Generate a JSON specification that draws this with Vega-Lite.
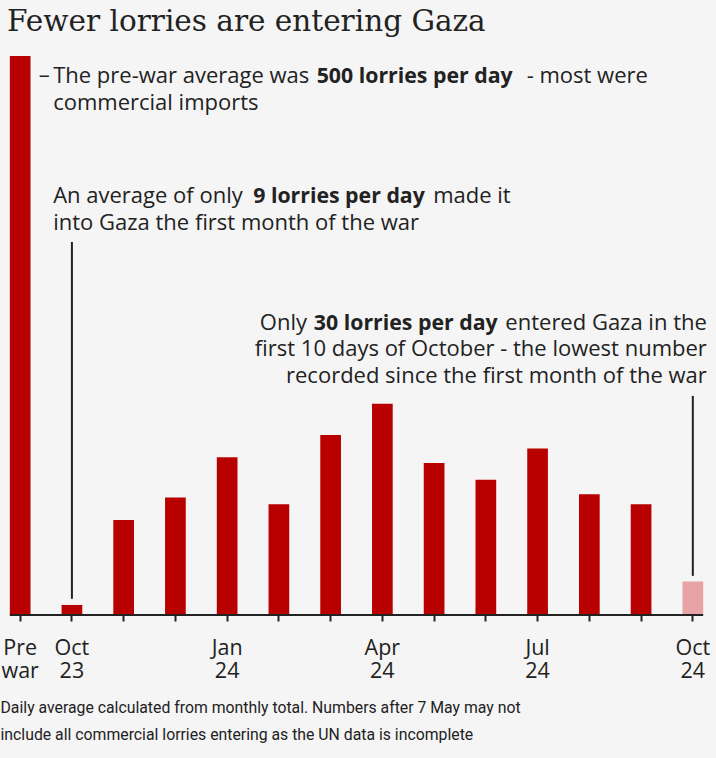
{
  "$schema": "https://vega.github.io/schema/vega-lite/v6.json",
  "width": 713,
  "height": 559,
  "autosize": {"type": "none"},
  "padding": {"left": 0, "top": 56, "right": 3, "bottom": 143},
  "background": "#f5f5f5",
  "config": {"view": {"stroke": null}, "font": "Open Sans"},
  "title": {
    "text": "Fewer lorries are entering Gaza",
    "anchor": "start",
    "frame": "group",
    "font": "DejaVu Serif",
    "fontSize": 29.5,
    "fontWeight": "normal",
    "color": "#222222",
    "baseline": "alphabetic",
    "offset": -4,
    "dx": 7
  },
  "data": {
    "values": [
      {"month": "Pre war", "lorries": 500},
      {"month": "Oct 23", "lorries": 9},
      {"month": "Nov 23", "lorries": 85},
      {"month": "Dec 23", "lorries": 105},
      {"month": "Jan 24", "lorries": 141},
      {"month": "Feb 24", "lorries": 99},
      {"month": "Mar 24", "lorries": 161},
      {"month": "Apr 24", "lorries": 189},
      {"month": "May 24", "lorries": 136},
      {"month": "Jun 24", "lorries": 121},
      {"month": "Jul 24", "lorries": 149},
      {"month": "Aug 24", "lorries": 108},
      {"month": "Sep 24", "lorries": 99},
      {"month": "Oct 24", "lorries": 30}
    ]
  },
  "layer": [
    {
      "mark": {"type": "bar"},
      "encoding": {
        "x": {
          "field": "month",
          "type": "nominal",
          "sort": null,
          "scale": {
            "domain": ["Pre war", "Oct 23", "Nov 23", "Dec 23", "Jan 24", "Feb 24", "Mar 24", "Apr 24", "May 24", "Jun 24", "Jul 24", "Aug 24", "Sep 24", "Oct 24"],
            "paddingInner": 0.6,
            "paddingOuter": 0.19
          },
          "axis": {
            "title": ["Daily average calculated from monthly total. Numbers after 7 May may not", "include all commercial lorries entering as the UN data is incomplete"],
            "domain": false,
            "ticks": true,
            "tickSize": 6,
            "tickWidth": 2,
            "tickColor": "#222222",
            "labelExpr": "indexof(['Pre war','Oct 23','Jan 24','Apr 24','Jul 24','Oct 24'], datum.value) >= 0 ? split(datum.value, ' ') : ''",
            "labelAngle": 0,
            "labelFont": "Open Sans",
            "labelFontSize": 21.5,
            "labelColor": "#222222",
            "labelLineHeight": 23,
            "labelBaseline": "alphabetic",
            "labelPadding": 33,
            "labelOverlap": false,
            "titleFont": "Roboto",
            "titleFontSize": 15.8,
            "titleColor": "#222222",
            "titleFontWeight": "normal",
            "titleAnchor": "start",
            "titleAlign": "left",
            "titleBaseline": "alphabetic",
            "titleLineHeight": 26.6,
            "titlePadding": 31
          }
        },
        "y": {
          "field": "lorries",
          "type": "quantitative",
          "scale": {"domain": [0, 500], "nice": false},
          "axis": null
        },
        "color": {
          "condition": {"test": "datum.month === 'Oct 24'", "value": "#e8a3a7"},
          "value": "#b80000"
        }
      }
    },
    {
      "data": {"values": [{}]},
      "mark": {"type": "rule", "color": "#222222", "strokeWidth": 2},
      "encoding": {
        "x": {"datum": "Pre war", "type": "nominal", "bandPosition": 0},
        "x2": {"datum": "Oct 24", "bandPosition": 1},
        "y": {"datum": 0, "type": "quantitative"}
      }
    },
    {
      "data": {"values": [{}]},
      "mark": {"type": "rule", "color": "#222222", "strokeWidth": 2},
      "encoding": {
        "x": {"datum": "Oct 23", "type": "nominal"},
        "y": {"datum": 333.7, "type": "quantitative"},
        "y2": {"datum": 14.6}
      }
    },
    {
      "data": {"values": [{}]},
      "mark": {"type": "rule", "color": "#222222", "strokeWidth": 2},
      "encoding": {
        "x": {"datum": "Oct 24", "type": "nominal"},
        "y": {"datum": 196, "type": "quantitative"},
        "y2": {"datum": 35}
      }
    },
    {
      "data": {"values": [{}]},
      "mark": {"type": "text", "align": "left", "baseline": "middle", "dx": 18.5, "fontSize": 22, "color": "#222222"},
      "encoding": {
        "x": {"datum": "Pre war", "type": "nominal"},
        "y": {"datum": 483.3, "type": "quantitative"},
        "text": {"value": "–"}
      }
    },
    {
      "data": {"values": [{}]},
      "mark": {"type": "text", "align": "left", "baseline": "alphabetic", "dx": 33, "fontSize": 22, "lineHeight": 27, "color": "#222222"},
      "encoding": {
        "x": {"datum": "Pre war", "type": "nominal"},
        "y": {"datum": 476.1, "type": "quantitative"},
        "text": {"value": ["The pre-war average was", "commercial imports"]}
      }
    },
    {
      "data": {"values": [{}]},
      "mark": {"type": "text", "align": "left", "baseline": "alphabetic", "dx": 296.5, "fontSize": 21.3, "fontWeight": "bold", "color": "#222222"},
      "encoding": {
        "x": {"datum": "Pre war", "type": "nominal"},
        "y": {"datum": 476.1, "type": "quantitative"},
        "text": {"value": "500 lorries per day"}
      }
    },
    {
      "data": {"values": [{}]},
      "mark": {"type": "text", "align": "left", "baseline": "alphabetic", "dx": 506.5, "fontSize": 22, "color": "#222222"},
      "encoding": {
        "x": {"datum": "Pre war", "type": "nominal"},
        "y": {"datum": 476.1, "type": "quantitative"},
        "text": {"value": "- most were"}
      }
    },
    {
      "data": {"values": [{}]},
      "mark": {"type": "text", "align": "left", "baseline": "alphabetic", "dx": 33, "fontSize": 22, "lineHeight": 27, "color": "#222222"},
      "encoding": {
        "x": {"datum": "Pre war", "type": "nominal"},
        "y": {"datum": 368.9, "type": "quantitative"},
        "text": {"value": ["An average of only", "into Gaza the first month of the war"]}
      }
    },
    {
      "data": {"values": [{}]},
      "mark": {"type": "text", "align": "left", "baseline": "alphabetic", "dx": 233, "fontSize": 21.3, "fontWeight": "bold", "color": "#222222"},
      "encoding": {
        "x": {"datum": "Pre war", "type": "nominal"},
        "y": {"datum": 368.9, "type": "quantitative"},
        "text": {"value": "9 lorries per day"}
      }
    },
    {
      "data": {"values": [{}]},
      "mark": {"type": "text", "align": "left", "baseline": "alphabetic", "dx": 413, "fontSize": 22, "color": "#222222"},
      "encoding": {
        "x": {"datum": "Pre war", "type": "nominal"},
        "y": {"datum": 368.9, "type": "quantitative"},
        "text": {"value": "made it"}
      }
    },
    {
      "data": {"values": [{}]},
      "mark": {"type": "text", "align": "right", "baseline": "alphabetic", "dx": 14, "fontSize": 22, "lineHeight": 26.7, "color": "#222222"},
      "encoding": {
        "x": {"datum": "Oct 24", "type": "nominal"},
        "y": {"datum": 255.2, "type": "quantitative"},
        "text": {"value": ["entered Gaza in the", "first 10 days of October - the lowest number", "recorded since the first month of the war"]}
      }
    },
    {
      "data": {"values": [{}]},
      "mark": {"type": "text", "align": "left", "baseline": "alphabetic", "dx": -433, "fontSize": 22, "color": "#222222"},
      "encoding": {
        "x": {"datum": "Oct 24", "type": "nominal"},
        "y": {"datum": 255.2, "type": "quantitative"},
        "text": {"value": "Only"}
      }
    },
    {
      "data": {"values": [{}]},
      "mark": {"type": "text", "align": "left", "baseline": "alphabetic", "dx": -379, "fontSize": 21.3, "fontWeight": "bold", "color": "#222222"},
      "encoding": {
        "x": {"datum": "Oct 24", "type": "nominal"},
        "y": {"datum": 255.2, "type": "quantitative"},
        "text": {"value": "30 lorries per day"}
      }
    }
  ]
}
